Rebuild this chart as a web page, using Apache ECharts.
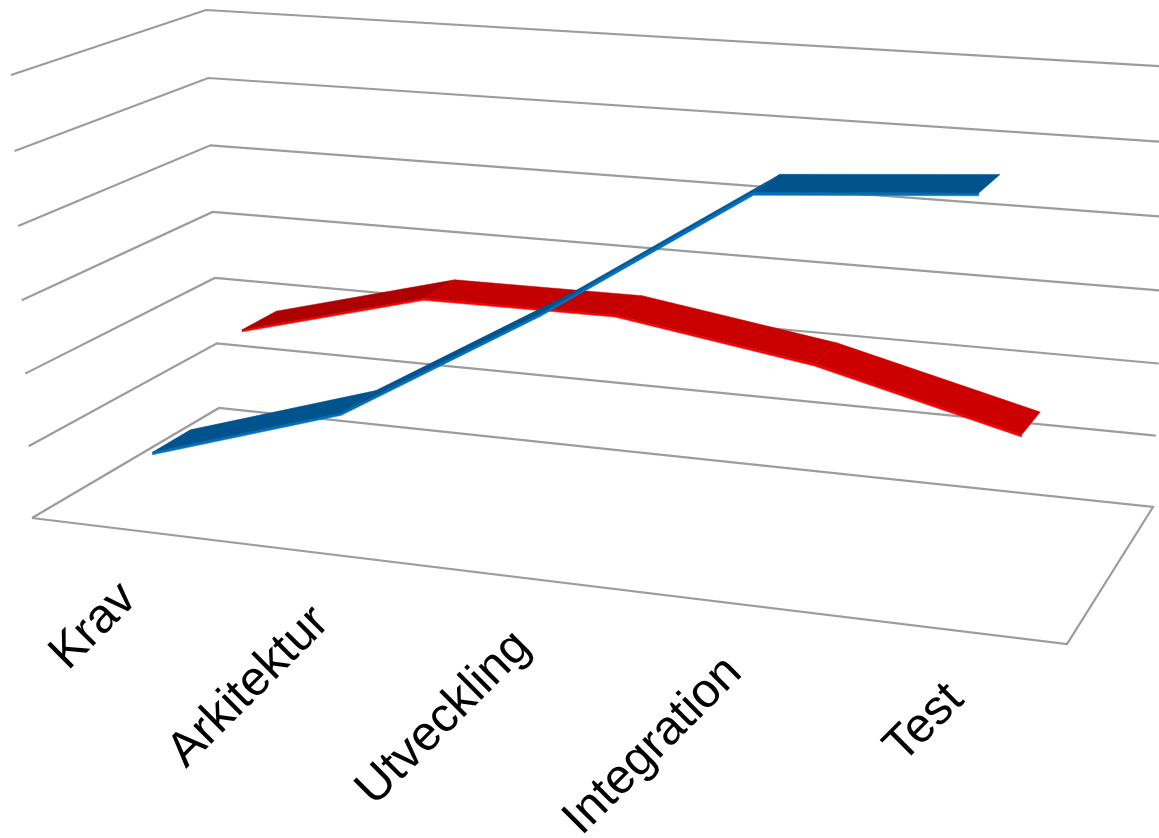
<!DOCTYPE html>
<html><head><meta charset="utf-8">
<style>html,body{margin:0;padding:0;background:#fff}#c{width:1159px;height:838px}</style>
<script src="https://cdn.jsdelivr.net/npm/echarts@6/dist/echarts.min.js"></script>
</head><body><div id="c"></div>
<script>
const categories = ['Krav','Arkitektur','Utveckling','Integration','Test'];
const blueValues = [0.82,1.65,3.23,5.0,5.2];
const redValues = [1.82,2.52,2.53,2.11,1.42];
const valueTicks = [0,1,2,3,4,5,6];
const blueShades = ['#00538C','#00538C','#005A99','#00538C'];
const redShades = ['#AE0000','#C40000','#C80000','#CC0000'];

const W=1159,H=838;
// Perspective box: floor corners and heights of the two rear-left verticals
const FL=[32,518],FR=[1067,644],BR=[1153,507],BL=[219,408],FLT=[11,75],BLT=[206,10];
const [x0,y0]=FL,[x1,y1]=FR,[x2,y2]=BR,[x3,y3]=BL;
const dx1=x1-x2,dx2=x3-x2,sx=x0-x1+x2-x3,dy1=y1-y2,dy2=y3-y2,sy=y0-y1+y2-y3;
const den=dx1*dy2-dx2*dy1,g=(sx*dy2-dx2*sy)/den,h=(dx1*sy-sx*dy1)/den;
const a=x1-x0+g*x1,b=x3-x0+h*x3,c=x0,d=y1-y0+g*y1,e=y3-y0+h*y3,f=y0;
const k1=(FL[0]-FLT[0])/(FL[1]-FLT[1]),k2=(BL[0]-BLT[0])/(BL[1]-BLT[1]);
const vy=(BL[0]-FL[0]+k1*FL[1]-k2*BL[1])/(k1-k2),vx=FL[0]+k1*(vy-FL[1]);
const s=(BLT[1]*(h+1)-(e+f))/(vy-BLT[1]);
function proj(u,v,w){
  const q=g*u+h*v+1+s*w;
  return [(a*u+b*v+c+s*vx*w)/q,(d*u+e*v+f+s*vy*w)/q];
}
// Axis pixel -> box coordinates
function box(api,i,val){const p=api.coord([i,val]);return [p[0]/W,1-p[1]/H];}

function ribbon(values,shades,edge,v0,v1,thick){
  return function(params,api){
    const i=api.value(0);
    if(i>=values.length-1) return {type:'group',children:[]};
    const [ua,wa]=box(api,i,values[i]),[ub,wb]=box(api,i+1,values[i+1]);
    const t=thick/6;
    const side=[proj(ua,v0,wa),proj(ub,v0,wb),proj(ub,v0,wb-t),proj(ua,v0,wa-t)];
    const top=[proj(ua,v0,wa),proj(ub,v0,wb),proj(ub,v1,wb),proj(ua,v1,wa)];
    return {type:'group',children:[
      {type:'polygon',shape:{points:side},style:{fill:edge,stroke:edge,lineWidth:.5}},
      {type:'polygon',shape:{points:top},style:{fill:shades[i],stroke:shades[i],lineWidth:.5}}
    ]};
  };
}
const chart=echarts.init(document.getElementById('c'),null,{renderer:'canvas'});
chart.setOption({
  animation:false,backgroundColor:'#fff',
  grid:{left:0,right:0,top:0,bottom:0},
  xAxis:{type:'category',data:categories,show:false},
  yAxis:{type:'value',min:0,max:6,interval:1,show:false},
  series:[
   {type:'custom',name:'grid',coordinateSystem:'cartesian2d',clip:false,silent:true,
    data:valueTicks.map(t=>[0,t]),
    renderItem(p,api){
      const w=box(api,0,api.value(1))[1];
      const pts=w===0?[proj(0,0,0),proj(1,0,0),proj(1,1,0),proj(0,1,0),proj(0,0,0)]
                     :[proj(0,0,w),proj(0,1,w),proj(1,1,w)];
      return {type:'polyline',shape:{points:pts},style:{fill:null,stroke:'#9C9C9C',lineWidth:2.2}};
    }},
   {type:'custom',name:'Serie 2',coordinateSystem:'cartesian2d',clip:false,
    data:redValues.map((v,i)=>[i,v]),renderItem:ribbon(redValues,redShades,'#FF0000',.65,.85,.03)},
   {type:'custom',name:'Serie 1',coordinateSystem:'cartesian2d',clip:false,
    data:blueValues.map((v,i)=>[i,v]),renderItem:ribbon(blueValues,blueShades,'#0070C0',.15,.35,.035)},
   {type:'custom',name:'labels',coordinateSystem:'cartesian2d',clip:false,silent:true,
    data:categories.map((n,i)=>[i,0]),
    renderItem(p,api){
      const i=api.value(0),pt=proj(box(api,i,0)[0],0,0);
      return {type:'text',x:pt[0]+4,y:pt[1]+62,rotation:Math.PI/4,
        style:{x:0,y:0,text:categories[i],fill:'#000',font:'48.5px "Liberation Sans"',align:'right',verticalAlign:'middle'}};
    }}
  ]
});
</script></body></html>
